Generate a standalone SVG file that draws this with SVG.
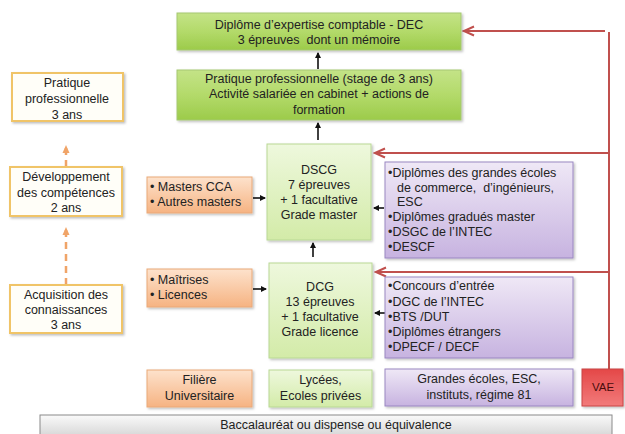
<svg xmlns="http://www.w3.org/2000/svg" width="625" height="434" viewBox="0 0 625 434">
<defs>
<linearGradient id="gDark" x1="0" y1="0" x2="0" y2="1"><stop offset="0" stop-color="#c4e387"/><stop offset="0.5" stop-color="#b3da6a"/><stop offset="1" stop-color="#9ccb4a"/></linearGradient>
<linearGradient id="gLight" x1="0" y1="0" x2="0" y2="1"><stop offset="0" stop-color="#eef8dd"/><stop offset="1" stop-color="#d3eba8"/></linearGradient>
<linearGradient id="gOrange" x1="0" y1="0" x2="0" y2="1"><stop offset="0" stop-color="#fde2cc"/><stop offset="1" stop-color="#f6b382"/></linearGradient>
<linearGradient id="gPurple" x1="0" y1="0" x2="0" y2="1"><stop offset="0" stop-color="#efe8f6"/><stop offset="1" stop-color="#c7b3e0"/></linearGradient>
<linearGradient id="gRed" x1="0" y1="0" x2="0" y2="1"><stop offset="0" stop-color="#e44848"/><stop offset="1" stop-color="#f27a7a"/></linearGradient>
<linearGradient id="gGray" x1="0" y1="0" x2="0" y2="1"><stop offset="0" stop-color="#fafafa"/><stop offset="1" stop-color="#d2d2d2"/></linearGradient>
<filter id="sh" x="-10%" y="-10%" width="125%" height="130%"><feDropShadow dx="1.5" dy="1.5" stdDeviation="1.2" flood-color="#000" flood-opacity="0.25"/></filter>
<marker id="aBlack" markerWidth="6" markerHeight="6" refX="5" refY="3" orient="auto" markerUnits="userSpaceOnUse"><path d="M0,0 L6,3 L0,6 Z" fill="#111"/></marker>
<marker id="aRed" markerWidth="13" markerHeight="12" refX="11" refY="6" orient="auto" markerUnits="userSpaceOnUse"><path d="M1,1.5 L11,6 L1,10.5" fill="none" stroke="#c0504d" stroke-width="2"/></marker>
<marker id="aOrange" markerWidth="8" markerHeight="8" refX="7" refY="4" orient="auto" markerUnits="userSpaceOnUse"><path d="M0,0.5 L8,4 L0,7.5 Z" fill="#f0a468"/></marker>
</defs>
<style>
text{font-family:"Liberation Sans",Arial,sans-serif;font-size:12.5px;fill:#222;white-space:pre;}
.c{text-anchor:middle;}
.dark{fill:url(#gDark);stroke:#a5c870;stroke-width:1;filter:url(#sh);}
.light{fill:url(#gLight);stroke:#b9d894;stroke-width:1;filter:url(#sh);}
.orange{fill:url(#gOrange);stroke:#eaa978;stroke-width:1;filter:url(#sh);}
.purple{fill:url(#gPurple);stroke:#9a87c2;stroke-width:1;filter:url(#sh);}
.red{fill:url(#gRed);stroke:#c84444;stroke-width:1;filter:url(#sh);}
.gray{fill:url(#gGray);stroke:#8a8a8a;stroke-width:1;}
.side{fill:#fffef8;stroke:#f0c468;stroke-width:2;filter:url(#sh);}
.blk{stroke:#111;stroke-width:1.6;fill:none;marker-end:url(#aBlack);}
.redl{stroke:#c0504d;stroke-width:2;fill:none;}
.dash{stroke:#f0a468;stroke-width:2.5;stroke-dasharray:7,5;fill:none;}
</style>

<g id="connectors">
<path class="blk" d="M318,69 V53"/>
<path class="blk" d="M318,140 V123"/>
<path class="blk" d="M313,257 V243"/>
<path class="blk" d="M253,198 H265"/>
<path class="blk" d="M253,289 H266"/>
<path class="blk" d="M384,208 H374"/>
<path class="blk" d="M385,313 H375"/>
<path class="redl" d="M609,369 V32"/>
<path class="redl" d="M605,31 H464" marker-end="url(#aRed)"/>
<path class="redl" d="M609,153 H375" marker-end="url(#aRed)"/>
<path class="redl" d="M609,272 H376" marker-end="url(#aRed)"/>
<path class="dash" d="M66,167 V146" marker-end="url(#aOrange)"/>
<path class="dash" d="M66,285 V228" marker-end="url(#aOrange)"/>
</g>

<g id="dec">
<rect class="dark" x="177" y="13" width="284" height="37"/>
<text class="c" x="319" y="29">Diplôme d’expertise comptable - DEC</text>
<text class="c" x="319" y="44">3 épreuves  dont un mémoire</text>
</g>
<g id="pratique">
<rect class="dark" x="177" y="70" width="284" height="50"/>
<text class="c" x="319" y="83">Pratique professionnelle (stage de 3 ans)</text>
<text class="c" x="319" y="98">Activité salariée en cabinet + actions de</text>
<text class="c" x="319" y="114">formation</text>
</g>
<g id="dscg">
<rect class="light" x="267" y="144" width="104" height="96"/>
<text class="c" x="319" y="174">DSCG</text>
<text class="c" x="319" y="189">7 épreuves</text>
<text class="c" x="319" y="204">+ 1 facultative</text>
<text class="c" x="319" y="219">Grade master</text>
</g>
<g id="dcg">
<rect class="light" x="269" y="263" width="103" height="95"/>
<text class="c" x="320" y="291">DCG</text>
<text class="c" x="320" y="306">13 épreuves</text>
<text class="c" x="320" y="321">+ 1 facultative</text>
<text class="c" x="320" y="336">Grade licence</text>
</g>
<g id="masters">
<rect class="orange" x="147" y="177" width="105" height="36"/>
<text x="150" y="191">• Masters CCA</text>
<text x="150" y="206">• Autres masters</text>
</g>
<g id="maitrises">
<rect class="orange" x="147" y="269" width="105" height="38"/>
<text x="150" y="284">• Maîtrises</text>
<text x="150" y="299">• Licences</text>
</g>
<g id="filiere">
<rect class="orange" x="147" y="370" width="105" height="37"/>
<text class="c" x="199.5" y="384">Filière</text>
<text class="c" x="199.5" y="400">Universitaire</text>
</g>
<g id="lycees">
<rect class="light" x="269" y="370" width="103" height="37"/>
<text class="c" x="320.5" y="384">Lycées,</text>
<text class="c" x="320.5" y="400">Ecoles privées</text>
</g>
<g id="diplomes-master">
<rect class="purple" x="385" y="162" width="188" height="96"/>
<text x="388" y="177">•Diplômes des grandes écoles</text>
<text x="397" y="192">de commerce,  d’ingénieurs,</text>
<text x="397" y="206">ESC</text>
<text x="388" y="221">•Diplômes gradués master</text>
<text x="388" y="236">•DSGC de l’INTEC</text>
<text x="388" y="251">•DESCF</text>
</g>
<g id="concours">
<rect class="purple" x="385" y="277" width="188" height="81"/>
<text x="388" y="290">•Concours d’entrée</text>
<text x="388" y="306">•DGC de l’INTEC</text>
<text x="388" y="321">•BTS /DUT</text>
<text x="388" y="336">•Diplômes étrangers</text>
<text x="388" y="351">•DPECF / DECF</text>
</g>
<g id="grandes-ecoles">
<rect class="purple" x="385" y="369" width="188" height="37"/>
<text class="c" x="479" y="383">Grandes écoles, ESC,</text>
<text class="c" x="479" y="399">instituts, régime 81</text>
</g>
<g id="vae">
<rect class="red" x="582" y="369" width="41" height="37"/>
<text class="c" x="603" y="391" style="fill:#4a0c0c;font-size:11.5px">VAE</text>
</g>
<g id="bac">
<rect class="gray" x="40" y="415" width="572" height="24"/>
<text class="c" x="336" y="429">Baccalauréat ou dispense ou équivalence</text>
</g>
<g id="side-pratique">
<rect class="side" x="12" y="73" width="111" height="48"/>
<text class="c" x="67" y="87">Pratique</text>
<text class="c" x="67" y="103">professionnelle</text>
<text class="c" x="67" y="119">3 ans</text>
</g>
<g id="side-developpement">
<rect class="side" x="10" y="167" width="112" height="49"/>
<text class="c" x="66" y="181">Développement</text>
<text class="c" x="66" y="197">des compétences</text>
<text class="c" x="66" y="212">2 ans</text>
</g>
<g id="side-acquisition">
<rect class="side" x="10" y="285" width="112" height="48"/>
<text class="c" x="66" y="299">Acquisition des</text>
<text class="c" x="66" y="314">connaissances</text>
<text class="c" x="66" y="329">3 ans</text>
</g>
</svg>
